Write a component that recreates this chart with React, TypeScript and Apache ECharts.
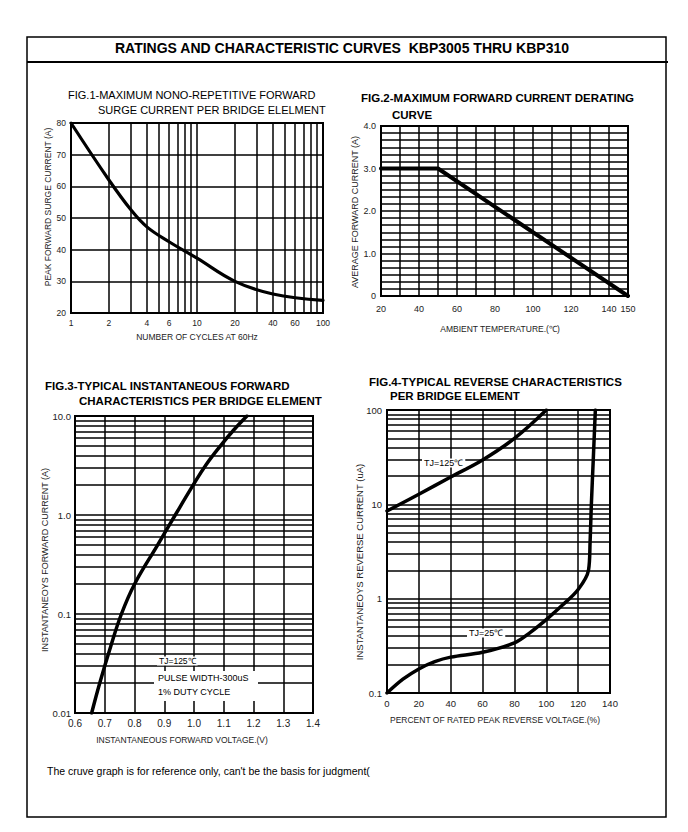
import React, { useEffect, useRef } from 'react';
import * as echarts from 'echarts';

// ---------- FIG.1 : surge current vs number of cycles ----------
const fig1Cycles = [1, 2, 3, 4, 6, 10, 20, 40, 100];
const fig1Current = [80, 62, 52.5, 47.2, 42.5, 37.3, 30, 26, 24];
const fig1XGridValues = [1, 2, 3, 4, 5, 6, 7, 8, 9, 10, 20, 30, 40, 50, 60, 70, 80, 90, 100];
const fig1XTickLabels = [1, 2, 4, 6, 10, 20, 40, 60, 100];

// ---------- FIG.2 : derating curve ----------
const fig2Temp = [20, 50, 150];
const fig2Current = [3.0, 3.0, 0];
const fig2XTickLabels = [20, 40, 60, 80, 100, 120, 140, 150];

// ---------- FIG.3 : forward characteristics ----------
const fig3Voltage = [0.656, 0.683, 0.72, 0.756, 0.8, 0.878, 0.937, 0.997, 1.04, 1.089, 1.135, 1.178];
const fig3Current = [0.01, 0.02, 0.047, 0.1, 0.2, 0.5, 1.0, 2.0, 3.2, 5.0, 7.3, 10];
const fig3YMinorGrid = [0.02, 0.03, 0.04, 0.05, 0.06, 0.07, 0.08, 0.09, 0.2, 0.3, 0.4, 0.5, 0.6, 0.7, 0.8, 0.9, 2, 3, 4, 5, 6, 7, 8, 9];

// ---------- FIG.4 : reverse characteristics ----------
const fig4Percent125 = [0, 20, 40, 60, 80, 100];
const fig4Current125 = [8.5, 12.8, 19.5, 29.5, 50, 100];
const fig4Percent25 = [0, 10, 20, 30, 40, 60, 80, 90, 100, 110, 120, 126.5, 127.5, 128.3, 129.5, 130.8];
const fig4Current25 = [0.1, 0.14, 0.18, 0.215, 0.24, 0.27, 0.34, 0.44, 0.6, 0.85, 1.25, 2.0, 4.0, 10, 30, 100];
const fig4YMinorGrid = [0.2, 0.3, 0.4, 0.5, 0.6, 0.7, 0.8, 0.9, 2, 3, 4, 5, 6, 7, 8, 9, 20, 30, 40, 50, 60, 70, 80, 90];

const FONT = '"Liberation Sans", Arial, Helvetica, sans-serif';
const GRID_LINE = { color: '#000', width: 1.5, type: 'solid' as const };
const CURVE = (w: number) => ({ color: '#000', width: w, cap: 'round' as const, join: 'round' as const });

const pairs = (xs: number[], ys: number[]) => xs.map((x, i) => [x, ys[i]]);

const txt = (text: string, x: number, y: number, size: number, opts: any = {}) => ({
  type: 'text',
  x,
  y,
  z: 100,
  rotation: opts.rotation || 0,
  style: {
    text,
    fill: opts.color || '#000',
    fontSize: size,
    fontFamily: FONT,
    fontWeight: opts.bold ? 'bold' : 'normal',
    textAlign: opts.align || 'left',
    textVerticalAlign: 'middle',
    backgroundColor: opts.bg,
    padding: opts.bg ? [0, 2] : undefined,
  },
});

const hLineMarks = (values: number[]) => ({
  silent: true,
  symbol: ['none', 'none'],
  z: 1,
  lineStyle: GRID_LINE,
  label: { show: false },
  emphasis: { disabled: true },
  data: values.map((v) => ({ yAxis: v })),
});

const baseAxis = {
  axisLine: { show: false },
  axisTick: { show: false },
};

export default function App() {
  const ref = useRef<HTMLDivElement>(null);

  useEffect(() => {
    if (!ref.current) return;
    const chart = echarts.init(ref.current, null, { renderer: 'svg' });

    const labelStyle = (size: number, margin: number) => ({
      fontSize: size,
      fontFamily: FONT,
      color: '#222',
      margin,
    });

    const option: any = {
      animation: false,
      backgroundColor: '#fff',
      grid: [
        { left: 71, top: 123, width: 252, height: 190, show: true, borderColor: '#000', borderWidth: 2 },
        { left: 381, top: 126, width: 247, height: 170, show: true, borderColor: '#000', borderWidth: 2 },
        { left: 75, top: 416, width: 238, height: 297, show: true, borderColor: '#000', borderWidth: 2 },
        { left: 387, top: 410, width: 223, height: 283, show: true, borderColor: '#000', borderWidth: 2 },
      ],
      xAxis: [
        {
          ...baseAxis,
          type: 'log',
          gridIndex: 0,
          logBase: 10,
          min: 1,
          max: 100,
          axisLabel: { show: false },
          splitLine: { show: false },
        },
        {
          ...baseAxis,
          type: 'value',
          gridIndex: 1,
          min: 20,
          max: 150,
          interval: 10,
          axisLabel: {
            ...labelStyle(9, 8),
            showMinLabel: true,
            showMaxLabel: true,
            formatter: (v: number) => (fig2XTickLabels.includes(Math.round(v)) ? String(Math.round(v)) : ''),
          },
          splitLine: { show: true, lineStyle: GRID_LINE },
        },
        {
          ...baseAxis,
          type: 'value',
          gridIndex: 2,
          min: 0.6,
          max: 1.4,
          interval: 0.1,
          axisLabel: { ...labelStyle(10, 5), formatter: (v: number) => v.toFixed(1) },
          splitLine: { show: true, lineStyle: GRID_LINE },
        },
        {
          ...baseAxis,
          type: 'value',
          gridIndex: 3,
          min: 0,
          max: 140,
          interval: 20,
          axisLabel: { ...labelStyle(9.5, 5) },
          splitLine: { show: true, lineStyle: GRID_LINE },
        },
      ],
      yAxis: [
        {
          ...baseAxis,
          type: 'value',
          gridIndex: 0,
          min: 20,
          max: 80,
          interval: 10,
          axisLabel: { ...labelStyle(8.5, 5) },
          splitLine: { show: true, lineStyle: GRID_LINE },
        },
        {
          ...baseAxis,
          type: 'value',
          gridIndex: 1,
          min: 0,
          max: 4,
          interval: 1,
          axisLabel: { ...labelStyle(9, 5), formatter: (v: number) => (v === 0 ? '0' : v.toFixed(1)) },
          splitLine: { show: true, lineStyle: GRID_LINE },
          minorTick: { show: false, splitNumber: 6 },
          minorSplitLine: { show: true, lineStyle: GRID_LINE },
        },
        {
          ...baseAxis,
          type: 'log',
          gridIndex: 2,
          logBase: 10,
          min: 0.01,
          max: 10,
          axisLabel: {
            ...labelStyle(9.5, 4),
            formatter: (v: number) => (v >= 1 ? v.toFixed(1) : String(v)),
          },
          splitLine: { show: true, lineStyle: GRID_LINE },
        },
        {
          ...baseAxis,
          type: 'log',
          gridIndex: 3,
          logBase: 10,
          min: 0.1,
          max: 100,
          axisLabel: { ...labelStyle(9.5, 5) },
          splitLine: { show: true, lineStyle: GRID_LINE },
        },
      ],
      series: [
        {
          type: 'line',
          xAxisIndex: 0,
          yAxisIndex: 0,
          data: pairs(fig1Cycles, fig1Current),
          smooth: 0.4,
          symbol: 'none',
          z: 3,
          lineStyle: CURVE(3.2),
          markLine: {
            silent: true,
            symbol: ['none', 'none'],
            z: 1,
            lineStyle: GRID_LINE,
            label: { show: false },
            emphasis: { disabled: true },
            data: fig1XGridValues.map((v) => ({
              xAxis: v,
              label: fig1XTickLabels.includes(v)
                ? {
                    show: true,
                    position: 'start',
                    distance: 5,
                    formatter: String(v),
                    fontSize: 8.5,
                    fontFamily: FONT,
                    color: '#222',
                  }
                : { show: false },
            })),
          },
        },
        {
          type: 'line',
          xAxisIndex: 1,
          yAxisIndex: 1,
          data: pairs(fig2Temp, fig2Current),
          symbol: 'none',
          z: 3,
          lineStyle: CURVE(4),
        },
        {
          type: 'line',
          xAxisIndex: 2,
          yAxisIndex: 2,
          data: pairs(fig3Voltage, fig3Current),
          smooth: 0.4,
          symbol: 'none',
          z: 3,
          lineStyle: CURVE(3.5),
          markLine: hLineMarks(fig3YMinorGrid),
        },
        {
          type: 'line',
          xAxisIndex: 3,
          yAxisIndex: 3,
          data: pairs(fig4Percent125, fig4Current125),
          smooth: 0.4,
          symbol: 'none',
          z: 3,
          lineStyle: CURVE(3.5),
          markLine: hLineMarks(fig4YMinorGrid),
        },
        {
          type: 'line',
          xAxisIndex: 3,
          yAxisIndex: 3,
          data: pairs(fig4Percent25, fig4Current25),
          smooth: 0.35,
          symbol: 'none',
          z: 3,
          lineStyle: CURVE(3.5),
        },
      ],
      graphic: {
        elements: [
          // page frame and header
          {
            type: 'rect',
            z: 90,
            shape: { x: 27, y: 37, width: 639, height: 780 },
            style: { fill: 'none', stroke: '#000', lineWidth: 1.5 },
          },
          {
            type: 'line',
            z: 90,
            shape: { x1: 27, y1: 62, x2: 668, y2: 62 },
            style: { stroke: '#000', lineWidth: 2 },
          },
          txt('RATINGS AND CHARACTERISTIC CURVES  KBP3005 THRU KBP310', 342, 48, 14, { bold: true, align: 'center' }),

          // FIG.1
          txt('FIG.1-MAXIMUM NONO-REPETITIVE FORWARD', 68, 95, 11),
          txt('SURGE CURRENT PER BRIDGE ELELMENT', 98, 110, 11),
          txt('NUMBER OF CYCLES AT 60Hz', 197, 337, 8.5, { align: 'center', color: '#222' }),
          txt('PEAK FORWARD SURGE CURRENT (A)', 48, 207, 8.5, { align: 'center', rotation: Math.PI / 2, color: '#222' }),

          // FIG.2
          txt('FIG.2-MAXIMUM FORWARD CURRENT DERATING', 361, 98, 11.5, { bold: true }),
          txt('CURVE', 392, 115, 11.5, { bold: true }),
          txt('AMBIENT TEMPERATURE.(℃)', 500, 329, 8.5, { align: 'center', color: '#222' }),
          txt('AVERAGE FORWARD CURRENT (A)', 355, 212, 9, { align: 'center', rotation: Math.PI / 2, color: '#222' }),

          // FIG.3
          txt('FIG.3-TYPICAL INSTANTANEOUS FORWARD', 45, 386, 11.5, { bold: true }),
          txt('CHARACTERISTICS PER BRIDGE ELEMENT', 79, 401, 11.5, { bold: true }),
          txt('INSTANTANEOUS FORWARD VOLTAGE.(V)', 182, 740, 8.5, { align: 'center', color: '#222' }),
          txt('INSTANTANEOYS FORWARD CURRENT (A)', 45, 560, 9, { align: 'center', rotation: Math.PI / 2, color: '#222' }),
          {
            type: 'rect',
            z: 100,
            shape: { x: 154, y: 671, width: 104, height: 30 },
            style: { fill: '#fff' },
          },
          txt('TJ=125℃', 157, 661, 8.5, { bg: '#fff' }),
          txt('PULSE WIDTH-300uS', 158, 678, 9),
          txt('1% DUTY CYCLE', 158, 692, 9),

          // FIG.4
          txt('FIG.4-TYPICAL REVERSE CHARACTERISTICS', 369, 382, 11.5, { bold: true }),
          txt('PER BRIDGE ELEMENT', 390, 396, 11.5, { bold: true }),
          txt('PERCENT OF RATED PEAK REVERSE VOLTAGE.(%)', 495, 720, 8.5, { align: 'center', color: '#222' }),
          txt('INSTANTANEOYS REVERSE CURRENT (uA)', 359, 562, 9.5, { align: 'center', rotation: Math.PI / 2, color: '#222' }),
          txt('TJ=125℃', 422, 463, 9, { bg: '#fff' }),
          txt('TJ=25℃', 467, 633, 9, { bg: '#fff' }),

          // footnote
          txt("The cruve graph is for reference only, can't be the basis for judgment(", 47, 771, 10.5),
        ],
      },
    };

    chart.setOption(option);
    return () => chart.dispose();
  }, []);

  return (
    <div
      ref={ref}
      style={{ position: 'absolute', left: 0, top: 0, width: 688, height: 832, background: '#fff' }}
    />
  );
}
